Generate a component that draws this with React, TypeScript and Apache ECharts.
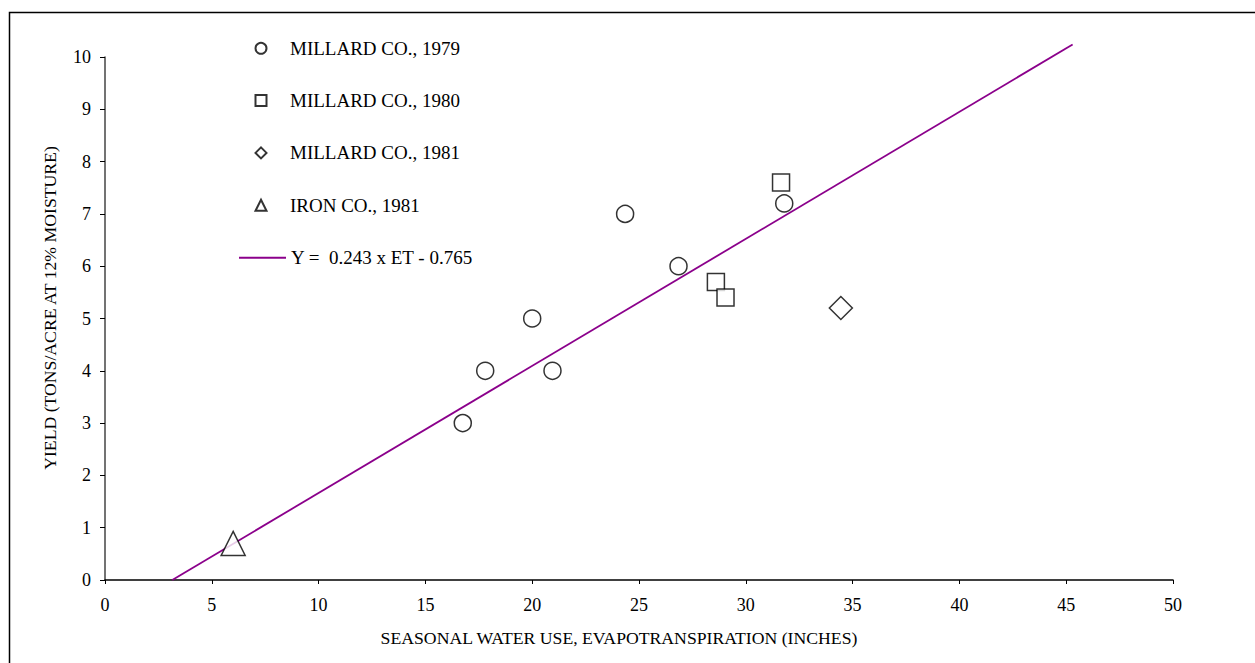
import React, { useEffect, useRef } from "react";
import * as echarts from "echarts";

const millard1979: [number, number][] = [
  [16.75, 3.0],
  [17.8, 4.0],
  [20.0, 5.0],
  [20.95, 4.0],
  [24.35, 7.0],
  [26.85, 6.0],
  [31.8, 7.2],
];
const millard1980: [number, number][] = [
  [31.65, 7.6],
  [28.6, 5.7],
  [29.05, 5.4],
];
const millard1981: [number, number][] = [[34.45, 5.2]];
const iron1981: [number, number][] = [[6.0, 0.7]];
const fitLine: [number, number][] = [
  [3.15, 0],
  [45.3, 10.24],
];

const seriesNames = [
  "MILLARD CO., 1979",
  "MILLARD CO., 1980",
  "MILLARD CO., 1981",
  "IRON CO., 1981",
];
const lineName = "Y =  0.243 x ET - 0.765";
const xTitle = "SEASONAL WATER USE, EVAPOTRANSPIRATION (INCHES)";
const yTitle = "YIELD (TONS/ACRE AT 12% MOISTURE)";

const FONT = "'Liberation Serif', 'Times New Roman', serif";

export default function App() {
  const ref = useRef<HTMLDivElement>(null);
  useEffect(() => {
    document.body.style.margin = "0";
    if (!ref.current) return;
    const chart = echarts.init(ref.current, undefined, { renderer: "svg" });
    const markerStyle = { color: "#ffffff", borderColor: "#000000", borderWidth: 1.5 };
    const scatterSeries = [
      { name: seriesNames[0], data: millard1979, symbol: "circle", symbolSize: 17 },
      { name: seriesNames[1], data: millard1980, symbol: "rect", symbolSize: 17 },
      { name: seriesNames[2], data: millard1981, symbol: "diamond", symbolSize: 23 },
      { name: seriesNames[3], data: iron1981, symbol: "triangle", symbolSize: 24 },
    ].map((s) => ({
      type: "scatter" as const,
      name: s.name,
      data: s.data,
      symbol: s.symbol,
      symbolSize: s.symbolSize,
      itemStyle: markerStyle,
      z: 3,
    }));
    chart.setOption({
      animation: false,
      backgroundColor: "#ffffff",
      textStyle: { fontFamily: FONT },
      grid: { left: 105, right: 82, top: 57, bottom: 83, containLabel: false },
      graphic: [
        {
          type: "rect",
          shape: { x: 9.5, y: 12.5, width: 1300, height: 700 },
          style: { fill: "none", stroke: "#000", lineWidth: 1.5 },
          z: -1,
        },
      ],
      legend: [
        {
          data: seriesNames,
          orient: "vertical",
          left: 254.5,
          top: 38.3,
          itemWidth: 11,
          itemHeight: 11,
          itemGap: 32.3,
          padding: 0,
          textStyle: {
            fontFamily: FONT,
            fontSize: 19,
            color: "#000",
            lineHeight: 20,
            padding: [0, 0, 0, 18.5],
          },
        },
        {
          data: [lineName],
          orient: "vertical",
          left: 238,
          top: 247.7,
          itemWidth: 47,
          itemHeight: 20,
          padding: 0,
          itemStyle: { color: "rgba(0,0,0,0)", borderWidth: 0, opacity: 0 },
          textStyle: {
            fontFamily: FONT,
            fontSize: 19,
            color: "#000",
            lineHeight: 20,
          },
        },
      ],
      xAxis: {
        type: "value",
        min: 0,
        max: 50,
        interval: 5,
        name: xTitle,
        nameLocation: "middle",
        nameGap: 49,
        nameTextStyle: {
          fontFamily: FONT,
          fontSize: 17.7,
          color: "#000",
          padding: [0, 40, 0, 0],
        },
        splitLine: { show: false },
        axisLine: { show: true, lineStyle: { color: "#000", width: 1.5 } },
        axisTick: { show: true, length: 4, lineStyle: { color: "#000" } },
        axisLabel: { fontFamily: FONT, fontSize: 18, color: "#000", margin: 16 },
      },
      yAxis: {
        type: "value",
        min: 0,
        max: 10,
        interval: 1,
        name: yTitle,
        nameLocation: "middle",
        nameRotate: 90,
        nameGap: 46,
        nameTextStyle: {
          fontFamily: FONT,
          fontSize: 17.7,
          color: "#000",
          padding: [0, 0, 0, 21],
        },
        splitLine: { show: false },
        axisLine: { show: true, lineStyle: { color: "#444", width: 1.5 } },
        axisTick: { show: true, length: 5, lineStyle: { color: "#000" } },
        axisLabel: { fontFamily: FONT, fontSize: 18, color: "#000", margin: 14 },
      },
      series: [
        ...scatterSeries,
        {
          type: "line",
          name: lineName,
          data: fitLine,
          symbol: "none",
          clip: false,
          lineStyle: { color: "#8B008B", width: 1.8 },
          itemStyle: { color: "#8B008B" },
          z: 2,
        },
      ],
    });
    return () => chart.dispose();
  }, []);
  return <div ref={ref} style={{ width: 1255, height: 663, overflow: "hidden" }} />;
}
